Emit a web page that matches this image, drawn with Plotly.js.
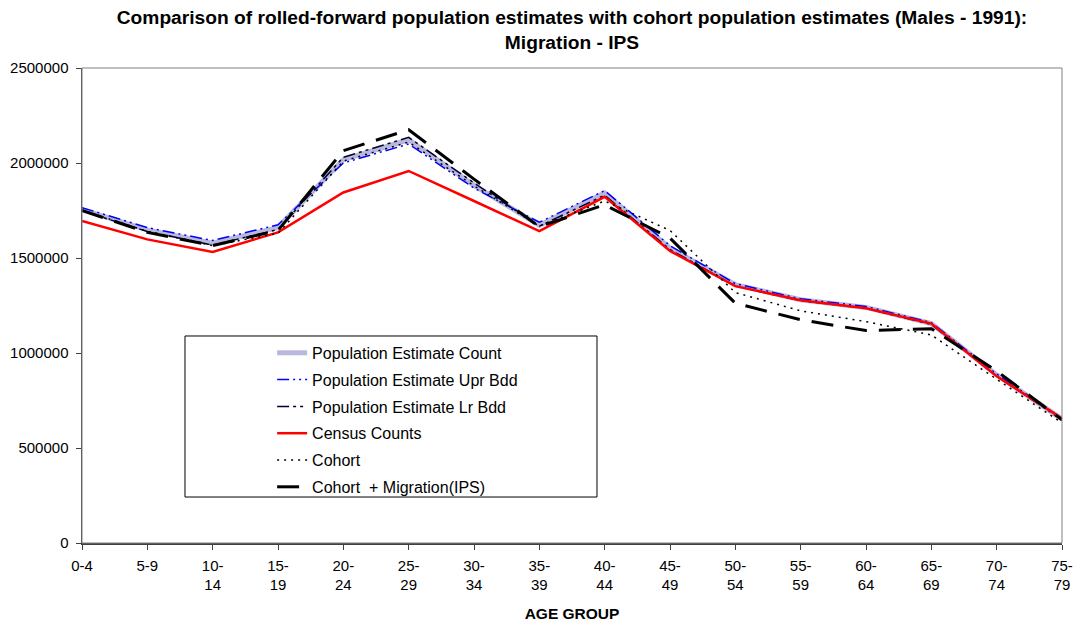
<!DOCTYPE html>
<html>
<head>
<meta charset="utf-8">
<script src="https://cdn.plot.ly/plotly-3.0.1.min.js"></script>
<style>html,body{margin:0;padding:0;background:#fff;}#chart{width:1075px;height:624px;}</style>
</head>
<body>
<div id="chart"></div>
<script>
var categories = ['0-4','5-9','10-14','15-19','20-24','25-29','30-34','35-39','40-44','45-49','50-54','55-59','60-64','65-69','70-74','75-79'];
var tickLabels = ['0-4','5-9','10-<br>14','15-<br>19','20-<br>24','25-<br>29','30-<br>34','35-<br>39','40-<br>44','45-<br>49','50-<br>54','55-<br>59','60-<br>64','65-<br>69','70-<br>74','75-<br>79'];
var popEstCount = [1755000,1648000,1578000,1660000,2018000,2122000,1882000,1672000,1842000,1552000,1360000,1280000,1240000,1155000,885000,652000];
var popEstUpr   = [1765000,1660000,1592000,1675000,2000000,2100000,1868000,1688000,1855000,1565000,1365000,1285000,1245000,1160000,890000,656000];
var popEstLr    = [1748000,1640000,1568000,1650000,2030000,2135000,1895000,1668000,1830000,1545000,1352000,1275000,1235000,1150000,880000,648000];
var censusCounts = [1695000,1598000,1532000,1635000,1845000,1958000,1800000,1642000,1822000,1537000,1352000,1278000,1235000,1155000,878000,655000];
var cohort       = [1752000,1640000,1565000,1630000,2010000,2110000,1880000,1668000,1800000,1645000,1318000,1222000,1165000,1095000,862000,632000];
var cohortMigIPS = [1750000,1635000,1565000,1645000,2065000,2175000,1915000,1665000,1780000,1605000,1262000,1175000,1118000,1128000,905000,648000];
var seriesNames = ['Population Estimate Count','Population Estimate Upr Bdd','Population Estimate Lr Bdd','Census Counts','Cohort','Cohort  + Migration(IPS)'];

function tr(y, name, color, width, dash, grp){
  return {x: categories, y: y, name: name, type: 'scatter', mode: 'lines',
    line: {color: color, width: width, dash: dash}, legendgroup: grp, hoverinfo: 'skip'};
}
var data = [
  tr(popEstCount, seriesNames[0], '#b8b8dc', 5, 'solid', 'g1'),
  tr(popEstUpr, seriesNames[1], '#0000ff', 1.5, '12px,4px,2px,4px,2px,4px', 'g2'),
  tr(popEstLr, seriesNames[2], '#000033', 1.5, '12px,4px,3px,4px,3px,4px', 'g3'),
  tr(censusCounts, seriesNames[3], '#ff0000', 2.5, 'solid', 'g4'),
  tr(cohort, seriesNames[4], '#000000', 1.5, '2px,5px', 'g5'),
  tr(cohortMigIPS, seriesNames[5], '#000000', 3, '22px,12px', 'g6')
];

var font = 'Liberation Sans, Arial, sans-serif';
var layout = {
  width: 1075, height: 624,
  margin: {l: 82, r: 13, t: 68, b: 81},
  paper_bgcolor: '#ffffff', plot_bgcolor: '#ffffff',
  font: {family: font, size: 15, color: '#000'},
  title: {text: '<b>Comparison of rolled-forward population estimates with cohort population estimates (Males - 1991):<br>Migration - IPS</b>',
    x: 0.5, xref: 'paper', xanchor: 'center', yref: 'container', y: 0.9615, yanchor: 'top',
    font: {family: font, size: 19.2, color: '#000'}},
  xaxis: {type: 'category', range: [0, 15], tickmode: 'array', tickvals: categories, ticktext: tickLabels,
    showgrid: false, zeroline: false, showline: true, linecolor: '#404040', linewidth: 1.5,
    ticks: 'outside', ticklen: 5, tickcolor: '#404040', tickfont: {size: 15}, ticklabelstandoff: 3,
    title: {text: '<b>AGE GROUP</b>', font: {size: 15.5}, standoff: 16}},
  yaxis: {range: [0, 2500000], dtick: 500000, tickformat: 'd', showgrid: false, zeroline: false,
    showline: true, linecolor: '#404040', linewidth: 1.5, ticks: 'outside', ticklen: 5, tickcolor: '#404040',
    tickfont: {size: 15}, ticklabelstandoff: 4},
  shapes: [
    {type: 'rect', xref: 'paper', yref: 'paper', x0: 0, x1: 1, y0: 0, y1: 1, line: {color: '#808080', width: 1}},
    {type: 'rect', xref: 'paper', yref: 'paper', x0: 0.1051, x1: 0.5255, y0: 0.0968, y1: 0.4358, line: {color: '#000', width: 1}, fillcolor: 'rgba(255,255,255,1)', layer: 'below'}
  ],
  showlegend: true,
  legend: {x: 0.194, xanchor: 'left', y: 0.436, yanchor: 'top', bgcolor: 'rgba(0,0,0,0)', borderwidth: 0,
    font: {family: font, size: 16, color: '#000'}, tracegroupgap: 3, traceorder: 'grouped'}
};
Plotly.newPlot('chart', data, layout, {displayModeBar: false, staticPlot: true});
</script>
</body>
</html>
